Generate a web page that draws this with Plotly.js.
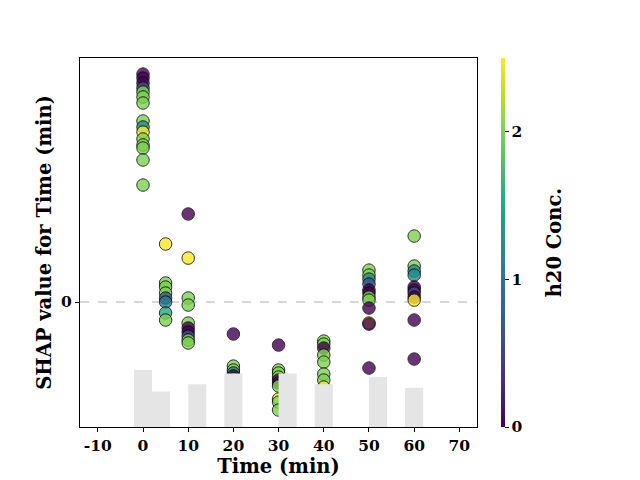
<!DOCTYPE html>
<html>
<head>
<meta charset="utf-8">
<script src="https://cdn.plot.ly/plotly-3.0.1.min.js"></script>
<style>html,body{margin:0;padding:0;background:#fff;}#chart{width:640px;height:480px;}</style>
</head>
<body>
<div id="chart"></div>
<script>
// Time (min) of each sample
const timeVals = [
  0,0,0,0,0,0,0,0,0,0,0,0,0,0,0,
  5,5,5,5,5,5,5,5,
  10,10,10,10,10,10,10,10,10,10,
  20,20,20,20,20,20,20,20,20,20,20,
  30,30,30,30,30,30,30,30,30,30,
  40,40,40,40,40,40,40,40,40,
  50,50,50,50,50,50,50,50,50,50,50,50,
  60,60,60,60,60,60,60,60,60,60,60
];
// SHAP value for Time (min)
const shapVals = [
  1.520,1.493,1.460,1.427,1.400,1.367,1.327,1.207,1.167,1.133,1.087,1.047,1.027,0.947,0.780,
  0.387,0.127,0.100,0.060,0.027,0.000,-0.073,-0.120,
  0.587,0.293,0.027,-0.020,-0.140,-0.173,-0.200,-0.227,-0.253,-0.273,
  -0.213,-0.427,-0.453,-0.473,-0.493,-0.513,-0.533,-0.560,-0.620,-0.653,-0.707,
  -0.287,-0.453,-0.473,-0.500,-0.520,-0.540,-0.560,-0.647,-0.667,-0.720,
  -0.260,-0.280,-0.307,-0.353,-0.400,-0.480,-0.520,-0.567,-0.600,
  0.213,0.180,0.153,0.120,0.080,0.060,0.033,0.013,-0.040,-0.140,-0.147,-0.440,
  0.440,0.240,0.207,0.180,0.100,0.080,0.060,0.033,0.013,-0.120,-0.380
];
// h20 Conc. (colour)
const h2oVals = [
  0,0,0,0.6,2,2,2,2,1.2,2.5,2,2,2,2,2,
  2.5,2,2,2,0.6,1.0,1.5,2,
  0,2.5,2,2,2,0,0,0.6,2,2,
  0,2,2,1.0,0,2,2.5,2,0,2,2,
  0,2,2,2,0,0,2,2.5,2,2,
  2,2,0,2,2,2,2,2.5,0,
  2,2,1.2,0.6,0,0,2,2,0,2.5,0,0,
  2,2,1.2,1.2,0,0,0.6,0,2.5,0,0
];
// background histogram of Time values
const histCenters = [0,4,12,20,32,40,52,60];
const histCounts  = [16,10,12,15,15,12,14,11];
// tick labels
const xTickVals = [-10,0,10,20,30,40,50,60,70];
const xTickText = ["-10","0","10","20","30","40","50","60","70"];
const colorTitle = "h20 Conc.";

const fontFam = "DejaVu Serif";
function tickFont() { return {family: fontFam, size: 15.5, color: "#000", weight: 700}; }
function titleFont() { return {family: fontFam, size: 19.5, color: "#000", weight: 700}; }

const traces = [
  {
    type: "bar", x: histCenters, y: histCounts, width: 4, yaxis: "y2",
    marker: {color: "#e5e5e5", line: {width: 0}}, hoverinfo: "skip", showlegend: false
  },
  {
    type: "scatter", mode: "markers", x: timeVals, y: shapVals,
    marker: {
      size: 12.5, color: h2oVals, colorscale: "Viridis", cmin: 0, cmax: 2.5,
      opacity: 0.8, line: {color: "#000", width: 1},
      colorbar: {
        x: 1.0605, xanchor: "left", xpad: 0, ypad: 0, y: 0.5, yanchor: "middle", len: 1, lenmode: "fraction",
        thickness: 4, outlinewidth: 0, ticks: "outside", ticklen: 4, tickcolor: "#000",
        tickvals: [0,1,2], ticktext: ["0","1","2"], tickfont: tickFont()
      }
    },
    showlegend: false
  }
];

const layout = {
  width: 640, height: 480,
  margin: {l: 80, r: 163, t: 58, b: 53},
  paper_bgcolor: "#fff", plot_bgcolor: "#fff",
  font: {family: fontFam, size: 15.5, color: "#000"},
  xaxis: {
    range: [-13.94, 73.9], tickmode: "array", tickvals: xTickVals, ticktext: xTickText,
    ticks: "outside", ticklen: 4, tickcolor: "#000", tickfont: tickFont(),
    showgrid: false, zeroline: false, showline: true, linecolor: "#000", linewidth: 1, mirror: true,
    title: {text: "Time (min)", font: titleFont(), standoff: 3}
  },
  yaxis: {
    range: [-0.833, 1.627], tickmode: "array", tickvals: [0], ticktext: ["0"],
    ticks: "outside", ticklen: 4, tickcolor: "#000", tickfont: tickFont(),
    showgrid: false, zeroline: false, showline: true, linecolor: "#000", linewidth: 1, mirror: true,
    title: {text: "SHAP value for Time (min)", font: titleFont(), standoff: 4}
  },
  yaxis2: {overlaying: "y", range: [0, 103.6], visible: false, showgrid: false, zeroline: false},
  annotations: [{
    text: colorTitle, xref: "paper", yref: "paper", x: 1.196, y: 0.5,
    xanchor: "center", yanchor: "middle", textangle: -90, showarrow: false, font: titleFont()
  }],
  shapes: [{
    type: "line", xref: "paper", x0: 0, x1: 1, yref: "y", y0: 0, y1: 0,
    line: {color: "#cccccc", width: 1.5, dash: "dash"}, layer: "below"
  }]
};

Plotly.newPlot("chart", traces, layout, {displayModeBar: false, staticPlot: true});
</script>
</body>
</html>
